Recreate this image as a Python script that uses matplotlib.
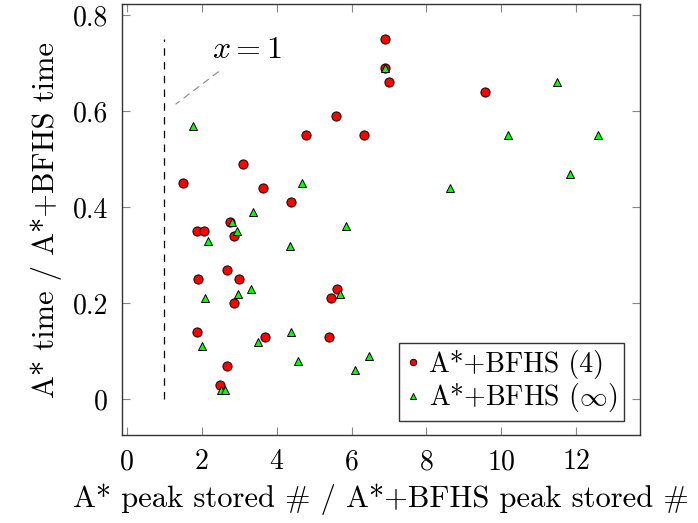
import matplotlib
matplotlib.use("Agg")
import matplotlib.pyplot as plt

plt.rcParams['font.family'] = 'serif'
plt.rcParams['font.serif'] = ['cmr10']
plt.rcParams['mathtext.fontset'] = 'cm'
plt.rcParams['axes.formatter.use_mathtext'] = True

# A*+BFHS (4)
x4 = [1.50, 1.87, 2.05, 1.91, 1.87, 2.67, 2.75, 2.87, 3.00, 2.85, 3.10, 3.63, 3.69,
      2.67, 2.49, 4.38, 4.78, 5.59, 6.32, 6.90, 6.90, 7.00, 5.61, 5.45, 5.41, 9.56]
y4 = [0.45, 0.35, 0.35, 0.25, 0.14, 0.27, 0.37, 0.34, 0.25, 0.20, 0.49, 0.44, 0.13,
      0.07, 0.03, 0.41, 0.55, 0.59, 0.55, 0.75, 0.69, 0.66, 0.23, 0.21, 0.13, 0.64]
# A*+BFHS (inf)
xinf = [1.76, 4.67, 3.37, 6.90, 2.82, 2.94, 2.17, 4.35, 5.85, 3.32, 2.98, 2.09, 5.70,
        4.38, 3.49, 2.00, 4.56, 6.47, 6.08, 2.50, 2.61, 11.48, 10.19, 12.57, 11.84, 8.63]
yinf = [0.57, 0.45, 0.39, 0.69, 0.37, 0.35, 0.33, 0.32, 0.36, 0.23, 0.22, 0.21, 0.22,
        0.14, 0.12, 0.11, 0.08, 0.09, 0.06, 0.02, 0.02, 0.66, 0.55, 0.55, 0.47, 0.44]

xticks = [0, 2, 4, 6, 8, 10, 12]
yticks = [0, 0.2, 0.4, 0.6, 0.8]
yticklabels = ['0', '0.2', '0.4', '0.6', '0.8']
ref_x = 1
ref_y = [0, 0.75]

FS_TICK = 20
FS_LAB = 22
FS_LEG = 20

fig = plt.figure(figsize=(6.98, 5.23), dpi=100)
ax = fig.add_axes([0.1748, 0.168, 0.742, 0.824])

ax.plot([ref_x, ref_x], ref_y, color='black', lw=0.9, ls=(0, (6, 5)))
ax.plot(x4, y4, ls='none', marker='o', ms=6.6, mfc='#ff0000', mec='black', mew=0.7,
        label='A*+BFHS (4)')
ax.plot(xinf, yinf, ls='none', marker='^', ms=6.3, mfc='#00ff00', mec='black', mew=0.7,
        label=r'A*+BFHS ($\infty$)')

ax.annotate(r'$x = 1$', xy=(1.31, 0.615), xytext=(3.2, 0.727), fontsize=23,
            ha='center', va='center',
            arrowprops=dict(arrowstyle='-', color='#888888', lw=0.8, ls=(0, (6, 5)),
                            shrinkA=6, shrinkB=0))

ax.set_xlim(-0.13, 13.7)
ax.set_ylim(-0.075, 0.823)
ax.set_xticks(xticks)
ax.set_xticklabels([str(v) for v in xticks])
ax.set_yticks(yticks)
ax.set_yticklabels(yticklabels)
ax.tick_params(direction='in', length=6, width=0.8, color='#888888', labelsize=FS_TICK,
               top=True, right=True, pad=10)
for s in ax.spines.values():
    s.set_color('#333333')
    s.set_linewidth(1.0)

ax.set_xlabel('A* peak stored # / A*+BFHS peak stored #', fontsize=FS_LAB, labelpad=6)
ax.set_ylabel('A* time / A*+BFHS time', fontsize=FS_LAB, labelpad=8)

leg = ax.legend(loc='lower right', fontsize=FS_LEG, markerscale=0.7, frameon=True,
                fancybox=False, edgecolor='black', handlelength=0.5, handletextpad=0.3,
                borderpad=0.25, labelspacing=0.1, borderaxespad=0,
                bbox_to_anchor=(0.969, 0.032))
leg.get_frame().set_linewidth(1.0)

fig.savefig('out.png', dpi=100)
